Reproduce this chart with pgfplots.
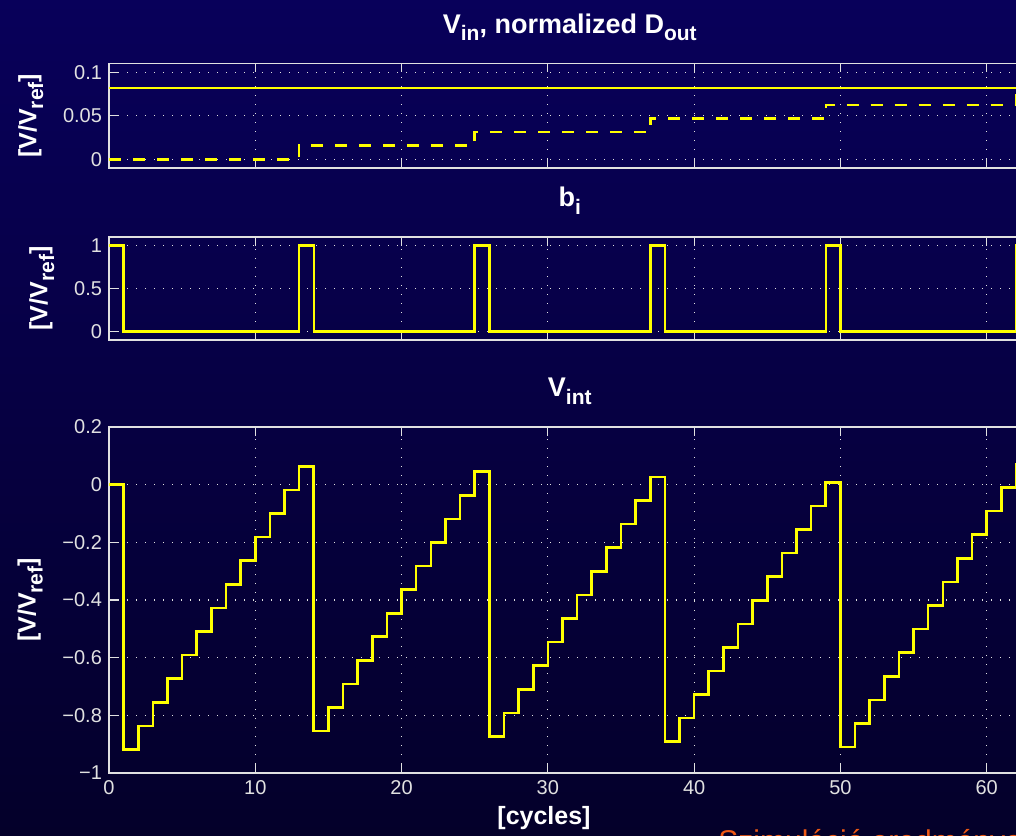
\documentclass[border=0pt]{standalone}
\usepackage{fontspec}
\setmainfont{Liberation Sans}
\usepackage{pgfplots}
\pgfplotsset{compat=1.18}

\definecolor{bgtop}{RGB}{8,0,90}
\definecolor{bgbot}{RGB}{4,0,42}
\definecolor{axcol}{RGB}{225,225,225}
\definecolor{sigcol}{RGB}{255,255,0}
\definecolor{footcol}{RGB}{240,90,20}

\newcommand{\tsub}[1]{\raisebox{-3.8pt}{\fontsize{10.5}{12}\selectfont #1}}
\newcommand{\lsub}[1]{\raisebox{-3.4pt}{\fontsize{10.5}{12}\selectfont #1}}

\pgfplotsset{
 sdstyle/.style={
  scale only axis, width=460.8pt, xmin=0, xmax=63,
  axis line style={axcol, line width=0.6pt},
  tick style={axcol, line width=0.6pt},
  major tick length=4.5pt, tick align=inside,
  xtick={0,10,...,60},
  grid=major,
  major grid style={axcol, line width=0.6pt, dash pattern=on 0.6pt off 3.9pt},
  tick label style={font=\fontsize{10}{11}\selectfont, text=axcol},
  /pgf/number format/assume math mode=true,
  scaled ticks=false,
  title style={font=\bfseries\fontsize{13.5}{15}\selectfont, text=white, at={(0.5,1)}, anchor=south, yshift=5pt, inner sep=0pt},
  ylabel style={font=\bfseries\fontsize{12.5}{14}\selectfont, text=white, yshift=3pt},
  xlabel style={font=\bfseries\fontsize{12.5}{14}\selectfont, text=white},
  ylabel={[V/V\lsub{ref}]},
  anchor=south west,
 },
 sig/.style={sigcol, line width=1.3pt, no markers, const plot},
}

\pgfplotstableread{
n v
0 0
1 -0.9182
2 -0.8364
3 -0.7546
4 -0.6728
5 -0.5910
6 -0.5092
7 -0.4274
8 -0.3456
9 -0.2638
10 -0.1820
11 -0.1002
12 -0.0184
13 0.0634
14 -0.8548
15 -0.7730
16 -0.6912
17 -0.6094
18 -0.5276
19 -0.4458
20 -0.3640
21 -0.2822
22 -0.2004
23 -0.1186
24 -0.0368
25 0.0450
26 -0.8732
27 -0.7914
28 -0.7096
29 -0.6278
30 -0.5460
31 -0.4642
32 -0.3824
33 -0.3006
34 -0.2188
35 -0.1370
36 -0.0552
37 0.0266
38 -0.8916
39 -0.8098
40 -0.7280
41 -0.6462
42 -0.5644
43 -0.4826
44 -0.4008
45 -0.3190
46 -0.2372
47 -0.1554
48 -0.0736
49 0.0082
50 -0.9100
51 -0.8282
52 -0.7464
53 -0.6646
54 -0.5828
55 -0.5010
56 -0.4192
57 -0.3374
58 -0.2556
59 -0.1738
60 -0.0920
61 -0.0102
62 0.0716
63 -0.8466
64 -0.7648
}\vint

\pgfplotstableread{
n b
0 1
1 0
13 1
14 0
25 1
26 0
37 1
38 0
49 1
50 0
62 1
63 0
64 0
}\bits

\pgfplotstableread{
n d
0 0
13 0.015625
25 0.03125
37 0.046875
49 0.0625
62 0.078125
64 0.078125
}\dout

\begin{document}
\begin{tikzpicture}
\path[use as bounding box] (0,0) rectangle (508pt,417.5pt);
\shade[top color=bgtop, bottom color=bgbot] (0,0) rectangle (508pt,417.5pt);

\begin{axis}[sdstyle, at={(54.5pt,333.5pt)}, height=52.25pt,
  ymin=-0.01, ymax=0.11, ytick={0,0.05,0.1}, yticklabels={0,0.05,0.1},
  xticklabels={},
  title={V\tsub{in}, normalized D\tsub{out}}]
\addplot[sig] coordinates {(0,0.0818) (64,0.0818)};
\addplot[sig, dash pattern=on 6pt off 6pt] table[x=n, y=d] {\dout};
\end{axis}

\begin{axis}[sdstyle, at={(54.5pt,247.5pt)}, height=51.5pt,
  ymin=-0.1, ymax=1.1, ytick={0,0.5,1}, yticklabels={0,0.5,1},
  xticklabels={},
  title={b\tsub{i}}]
\addplot[sig] table[x=n, y=b] {\bits};
\end{axis}

\begin{axis}[sdstyle, at={(54.5pt,31pt)}, height=173pt,
  ymin=-1, ymax=0.2, ytick={-1,-0.8,...,0.2},
  yticklabels={−1,−0.8,−0.6,−0.4,−0.2,0,0.2},
  xticklabels={0,10,20,30,40,50,60},
  title={V\tsub{int}},
  xlabel={[cycles]},
  xlabel style={at={(axis description cs:0.472,0)}, anchor=north, yshift=-16.5pt, inner sep=0pt}]
\addplot[sig] table[x=n, y=v] {\vint};
\end{axis}

\node[anchor=base west, inner sep=0pt, text=footcol, font=\fontsize{15}{18}\selectfont] at (359pt,-8pt) {Szimuláció eredménye};
\end{tikzpicture}
\end{document}
